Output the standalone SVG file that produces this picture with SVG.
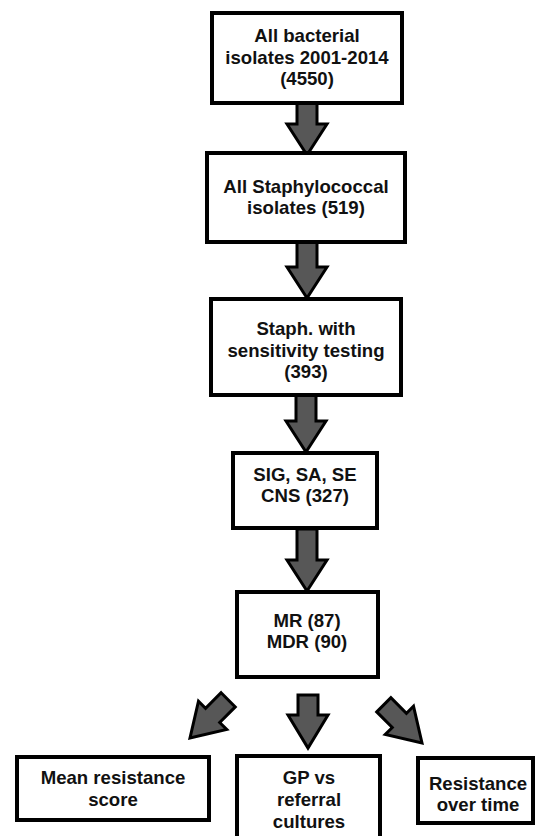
<svg xmlns="http://www.w3.org/2000/svg" width="535" height="836" viewBox="0 0 535 836">
<style>
.box{fill:#fff;stroke:#000;stroke-width:4}
.t{font-family:"Liberation Sans",Arial,sans-serif;font-weight:bold;font-size:18.6px;fill:#111;text-anchor:middle}
.arr{fill:#575757;stroke:#000;stroke-width:3;stroke-linejoin:miter}
</style>
<defs>
<path id="arrow" d="M-10,-54 L10,-54 L10,-32 L20,-32 L0,0 L-20,-32 L-10,-32 Z"/>
</defs>
<rect width="535" height="836" fill="#fff"/>
<g id="connectors">
<path class="arr" d="M297,103 L317,103 L317,124 L327,124 L307,155 L287,124 L297,124 Z"/>
<path class="arr" d="M297,242 L317,242 L317,267 L327,267 L307,298 L287,267 L297,267 Z"/>
<path class="arr" d="M296,395 L316,395 L316,421 L326,421 L306,452 L286,421 L296,421 Z"/>
<path class="arr" d="M297,529 L317,529 L317,560 L327,560 L307,591 L287,560 L297,560 Z"/>
<path class="arr" d="M298,695 L318,695 L318,715 L328,715 L308,748 L288,715 L298,715 Z"/>
<use class="arr" href="#arrow" transform="translate(190,738) rotate(45)"/>
<use class="arr" href="#arrow" transform="translate(422,743) rotate(-45)"/>
</g>
<g id="n1">
<rect class="box" x="212" y="13" width="190" height="90"/>
<text class="t" x="307" y="42">All bacterial</text>
<text class="t" x="307" y="64">isolates 2001-2014</text>
<text class="t" x="307" y="85">(4550)</text>
</g>
<g id="n2">
<rect class="box" x="207" y="153" width="198" height="89"/>
<text class="t" x="306" y="193">All Staphylococcal</text>
<text class="t" x="306" y="214">isolates (519)</text>
</g>
<g id="n3">
<rect class="box" x="211" y="299" width="190" height="96"/>
<text class="t" x="306" y="335">Staph. with</text>
<text class="t" x="306" y="357">sensitivity testing</text>
<text class="t" x="306" y="378">(393)</text>
</g>
<g id="n4">
<rect class="box" x="233" y="453" width="144" height="75"/>
<text class="t" x="305" y="481">SIG, SA, SE</text>
<text class="t" x="305" y="502">CNS (327)</text>
</g>
<g id="n5">
<rect class="box" x="237" y="592" width="141" height="85"/>
<text class="t" x="307" y="627">MR (87)</text>
<text class="t" x="307" y="648">MDR (90)</text>
</g>
<g id="n6">
<rect class="box" x="17" y="757" width="192" height="63"/>
<text class="t" x="113" y="784">Mean resistance</text>
<text class="t" x="113" y="806">score</text>
</g>
<g id="n7">
<rect class="box" x="237" y="756" width="143" height="100"/>
<text class="t" x="309" y="784">GP vs</text>
<text class="t" x="309" y="806">referral</text>
<text class="t" x="309" y="828">cultures</text>
</g>
<g id="n8">
<rect class="box" x="418" y="758" width="115" height="65"/>
<text class="t" x="478" y="790">Resistance</text>
<text class="t" x="478" y="811">over time</text>
</g>
</svg>
